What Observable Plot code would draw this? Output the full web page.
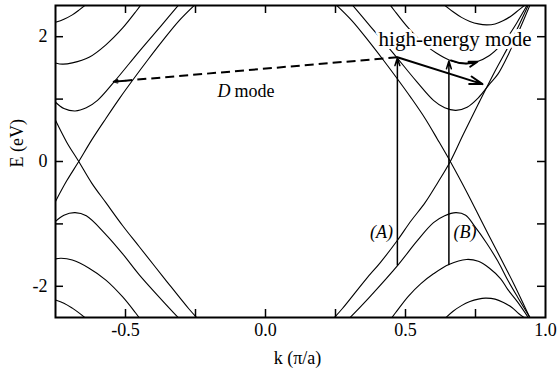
<!DOCTYPE html>
<html>
<head>
<meta charset="utf-8">
<script src="https://cdn.jsdelivr.net/npm/d3@7"></script>
<script src="https://cdn.jsdelivr.net/npm/@observablehq/plot@0.6"></script>
<style>
  html, body { margin: 0; padding: 0; background: #fff; }
  svg { display: block; }
</style>
</head>
<body>
<div id="chart"></div>
<script>
// ---- Data: [k (pi/a), E (eV)] ----
const bandC1Left  = [[-0.75,2.23],[-0.72,2.28],[-0.69,2.35],[-0.665,2.43],[-0.64,2.52]];
const bandC1Right = [[0.635,2.52],[0.67,2.40],[0.70,2.31],[0.73,2.245],[0.76,2.205],[0.79,2.19],[0.82,2.205],[0.85,2.26],[0.88,2.34],[0.905,2.43],[0.93,2.52]];
const bandC2Left  = [[-0.75,1.58],[-0.725,1.56],[-0.69,1.58],[-0.63,1.67],[-0.57,1.87],[-0.51,2.14],[-0.46,2.42],[-0.445,2.51]];
const bandC2Right = [[0.445,2.51],[0.46,2.42],[0.51,2.14],[0.57,1.87],[0.61,1.74],[0.66,1.62],[0.71,1.57],[0.75,1.59],[0.80,1.70],[0.84,1.86],[0.87,2.03],[0.90,2.24],[0.935,2.51]];
const bandC3Left  = [[-0.75,0.95],[-0.72,0.85],[-0.68,0.81],[-0.64,0.86],[-0.60,0.98],[-0.54,1.28],[-0.45,1.77],[-0.37,2.19],[-0.31,2.51]];
const bandC3Right = [[0.31,2.51],[0.37,2.19],[0.45,1.77],[0.54,1.28],[0.60,0.98],[0.64,0.86],[0.68,0.82],[0.72,0.87],[0.76,1.02],[0.80,1.24],[0.83,1.40],[0.87,1.74],[0.90,2.04],[0.945,2.51]];
const bandV1Left  = [[-0.75,-2.22],[-0.72,-2.27],[-0.69,-2.35],[-0.665,-2.43],[-0.64,-2.52]];
const bandV1Right = [[0.64,-2.52],[0.67,-2.40],[0.70,-2.31],[0.73,-2.245],[0.76,-2.205],[0.785,-2.19],[0.82,-2.205],[0.85,-2.26],[0.88,-2.34],[0.905,-2.44],[0.93,-2.52]];
const bandV2Left  = [[-0.75,-1.56],[-0.73,-1.55],[-0.69,-1.58],[-0.63,-1.71],[-0.57,-1.90],[-0.51,-2.17],[-0.465,-2.42],[-0.45,-2.51]];
const bandV2Right = [[0.45,-2.51],[0.465,-2.42],[0.51,-2.16],[0.554,-1.96],[0.60,-1.80],[0.655,-1.65],[0.718,-1.57],[0.76,-1.60],[0.80,-1.71],[0.84,-1.88],[0.865,-2.05],[0.90,-2.25],[0.94,-2.51]];
const bandV3Left  = [[-0.75,-0.96],[-0.72,-0.86],[-0.68,-0.82],[-0.64,-0.87],[-0.57,-1.17],[-0.51,-1.48],[-0.45,-1.82],[-0.37,-2.22],[-0.31,-2.51]];
const bandV3Right = [[0.30,-2.51],[0.37,-2.18],[0.473,-1.66],[0.54,-1.28],[0.60,-0.98],[0.64,-0.87],[0.68,-0.82],[0.715,-0.86],[0.744,-1.02],[0.79,-1.31],[0.83,-1.60],[0.865,-1.90],[0.90,-2.17],[0.946,-2.51]];
const lineLeftUp    = [[-0.75,-0.64],[-0.71,-0.31],[-0.667,0],[-0.62,0.35],[-0.57,0.69],[-0.52,1.02],[-0.47,1.33],[-0.42,1.63],[-0.37,1.92],[-0.31,2.25],[-0.25,2.52]];
const lineLeftDown  = [[-0.75,0.66],[-0.71,0.31],[-0.667,0],[-0.62,-0.35],[-0.57,-0.66],[-0.51,-1.03],[-0.45,-1.37],[-0.36,-1.88],[-0.274,-2.36],[-0.244,-2.51]];
const lineRightDown = [[0.25,2.52],[0.31,2.25],[0.37,1.92],[0.42,1.63],[0.47,1.33],[0.52,1.02],[0.57,0.69],[0.615,0.35],[0.66,0],[0.72,-0.50],[0.78,-1.03],[0.84,-1.55],[0.89,-1.99],[0.946,-2.52]];
const lineRightUp   = [[0.244,-2.51],[0.274,-2.36],[0.36,-1.88],[0.41,-1.62],[0.47,-1.27],[0.52,-0.95],[0.57,-0.66],[0.615,-0.34],[0.66,0],[0.707,0.44],[0.76,0.92],[0.82,1.45],[0.88,1.95],[0.94,2.52]];

// transitions / phonon arrows: [k1, E1, k2, E2]
const transitions   = [[0.471,-1.66,0.471,1.66],[0.655,-1.65,0.655,1.61]];
const dModeLine     = [[0.471,1.67,-0.50,1.296]];
const dModeHead     = [[-0.50,1.296,-0.542,1.28]];
const highEnergyArrows = [[0.471,1.67,0.775,1.24]];
const highEnergySmall  = [[0.662,1.62,0.757,1.60]];

// ticks
const kTicks = [-0.5,-0.25,0,0.25,0.5,0.75];
const kLabels = [-0.5,0,0.5,1.0];
const eTicks = [-2,-1,0,1,2];
const eLabels = [-2,0,2];

const curves = [bandC1Left,bandC1Right,bandC2Left,bandC2Right,bandC3Left,bandC3Right,
  bandV1Left,bandV1Right,bandV2Left,bandV2Right,bandV3Left,bandV3Right,
  lineLeftUp,lineLeftDown,lineRightDown,lineRightUp];

const font = "'Liberation Serif', 'Times New Roman', serif";
const plotH = 377 - 5 - 60;
const plotW = 557 - 55 - 12;
const tickLen = 8;

const marks = [];
for (const c of curves) {
  marks.push(Plot.line(c, {x: d => d[0], y: d => d[1], curve: "catmull-rom", stroke: "black", strokeWidth: 1.1, clip: true}));
}
// label with white halo
marks.push(Plot.text(["high-energy mode"], {x: 0.677, y: 1.954, fontSize: 21, fontFamily: font, fill: "black", stroke: "white", strokeWidth: 6, textAnchor: "middle"}));
marks.push(
  Plot.text(["D"], {x: -0.125, y: 1.133, fontSize: 18, fontFamily: font, fontStyle: "italic", textAnchor: "end"}),
  Plot.text(["mode"], {x: -0.111, y: 1.133, fontSize: 18, fontFamily: font, textAnchor: "start"}),
  Plot.text(["(A)"], {x: 0.414, y: -1.133, fontSize: 18, fontFamily: font, fontStyle: "italic"}),
  Plot.text(["(B)"], {x: 0.7125, y: -1.133, fontSize: 18, fontFamily: font, fontStyle: "italic"}),
  Plot.link(dModeLine, {x1: d => d[0], y1: d => d[1], x2: d => d[2], y2: d => d[3], stroke: "black", strokeWidth: 2, strokeDasharray: "9,5"}),
  Plot.arrow(dModeHead, {x1: d => d[0], y1: d => d[1], x2: d => d[2], y2: d => d[3], stroke: "black", strokeWidth: 2, headLength: 9, headAngle: 35}),
  Plot.arrow(transitions, {x1: d => d[0], y1: d => d[1], x2: d => d[2], y2: d => d[3], stroke: "black", strokeWidth: 1.5, headLength: 8, headAngle: 35}),
  Plot.arrow(highEnergyArrows, {x1: d => d[0], y1: d => d[1], x2: d => d[2], y2: d => d[3], stroke: "black", strokeWidth: 2, headLength: 10, headAngle: 35}),
  Plot.arrow(highEnergySmall, {x1: d => d[0], y1: d => d[1], x2: d => d[2], y2: d => d[3], stroke: "black", strokeWidth: 2, headLength: 9, headAngle: 35, bend: -20}),
  // inward ticks on all four sides
  Plot.ruleX(kTicks, {x: d => d, insetTop: plotH - tickLen, stroke: "black", strokeWidth: 1.5}),
  Plot.ruleX(kTicks, {x: d => d, insetBottom: plotH - tickLen, stroke: "black", strokeWidth: 1.5}),
  Plot.ruleY(eTicks, {y: d => d, insetRight: plotW - tickLen, stroke: "black", strokeWidth: 1.5}),
  Plot.ruleY(eTicks, {y: d => d, insetLeft: plotW - tickLen, stroke: "black", strokeWidth: 1.5}),
  Plot.frame({stroke: "black", strokeWidth: 2}),
  Plot.axisX({ticks: kLabels, anchor: "bottom", tickSize: 0, tickPadding: 6, tickFormat: d => d.toFixed(1), fontSize: 18, fontFamily: font, label: null}),
  Plot.axisY({ticks: eLabels, anchor: "left", tickSize: 0, tickPadding: 8, tickFormat: d => String(d), fontSize: 18, fontFamily: font, label: null}),
  Plot.text(["k (\u03c0/a)"], {frameAnchor: "bottom", dy: 46, dx: -3, fontSize: 18, fontFamily: font}),
  Plot.text(["E (eV)"], {frameAnchor: "left", dx: -38, dy: 6, rotate: -90, fontSize: 18, fontFamily: font})
);

const chart = Plot.plot({
  width: 557,
  height: 377,
  marginLeft: 55,
  marginRight: 12,
  marginTop: 5,
  marginBottom: 60,
  x: {domain: [-0.75, 1.0], axis: null},
  y: {domain: [-2.5, 2.5], axis: null},
  style: {background: "white", fontFamily: font, color: "black", overflow: "visible"},
  marks
});
document.getElementById("chart").append(chart);
</script>
</body>
</html>
